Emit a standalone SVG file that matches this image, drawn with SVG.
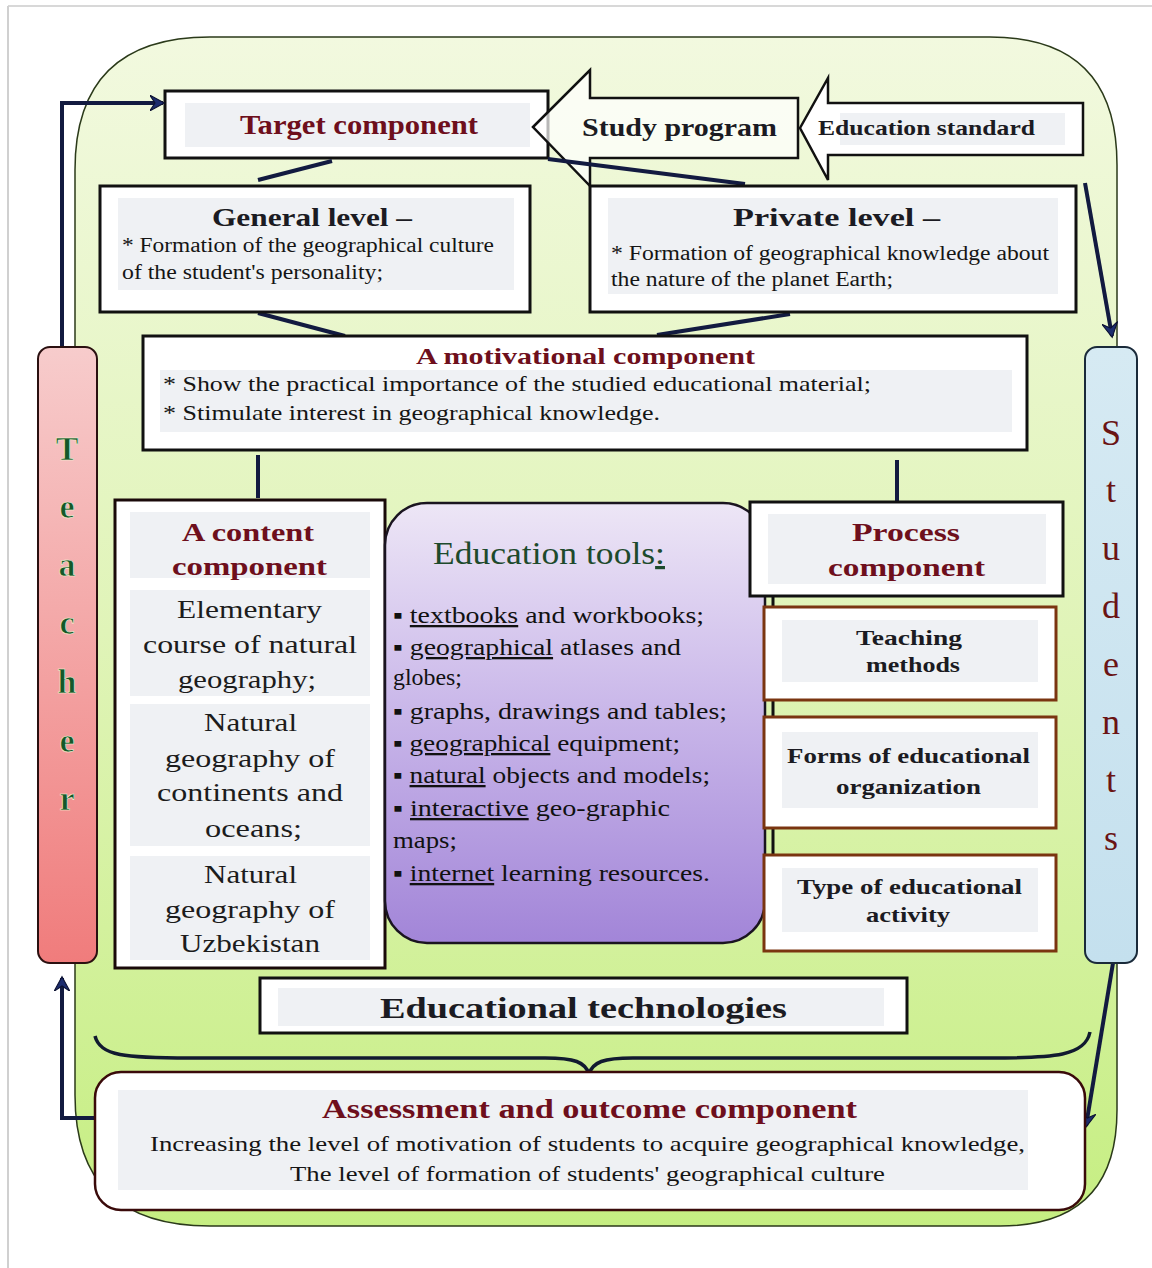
<svg xmlns="http://www.w3.org/2000/svg" width="1152" height="1268" viewBox="0 0 1152 1268">
<defs>
<linearGradient id="gGreen" x1="0" y1="0" x2="0" y2="1">
<stop offset="0" stop-color="#f2f9df"/>
<stop offset="0.5" stop-color="#e0f4b8"/>
<stop offset="1" stop-color="#c6ee82"/>
</linearGradient>
<linearGradient id="gPurple" x1="0" y1="0" x2="0" y2="1">
<stop offset="0" stop-color="#ede6f6"/>
<stop offset="0.45" stop-color="#cbb9ea"/>
<stop offset="1" stop-color="#a285d8"/>
</linearGradient>
<linearGradient id="gPink" x1="0" y1="0" x2="0" y2="1">
<stop offset="0" stop-color="#f7cccc"/>
<stop offset="1" stop-color="#f07c7c"/>
</linearGradient>
<linearGradient id="gBlue" x1="0" y1="0" x2="0" y2="1">
<stop offset="0" stop-color="#d6eaf3"/>
<stop offset="1" stop-color="#c4e0ee"/>
</linearGradient>
<marker id="arr" viewBox="0 0 12 12" refX="10" refY="6" markerWidth="4" markerHeight="4" orient="auto" markerUnits="strokeWidth">
<path d="M0,0 L11,6 L0,12 L4,6 Z" fill="#1c2c6e" stroke="#0b1030" stroke-width="0.8"/>
</marker>
<style>
.box{fill:#ffffff;stroke:#111111;stroke-width:3}
.bbox{fill:#ffffff;stroke:#7a3510;stroke-width:3}
.back{fill:#eff1f4}
.conn{stroke:#121a40;stroke-width:4;fill:none}
text{font-family:"Liberation Serif","Times New Roman",Times,"DejaVu Serif",serif}
.title{font-weight:bold;fill:#6e0f1c}
.dark{font-weight:bold;fill:#1b1b22}
.body{fill:#151515}
.cell{fill:#1c1c1c;font-size:26px}
.tool{fill:#111;font-size:23px}
.sq{text-decoration:underline}
.teach{font-weight:bold;fill:#14582a;font-size:34px;stroke:#f4f4d8;stroke-width:0.6}
.stud{fill:#6a1414;font-size:36px}
</style>
</defs>
<rect x="0" y="0" width="1152" height="1268" fill="#ffffff"/>
<line x1="8" y1="6" x2="1152" y2="6" stroke="#d8d8d8" stroke-width="2"/>
<line x1="8" y1="6" x2="8" y2="1268" stroke="#d0d0d0" stroke-width="2"/>

<g id="background">
<path d="M210,37 H990 Q1117,37 1117,165 V1110 Q1117,1226 1000,1226 H210 Q75,1226 75,1095 V170 Q75,37 210,37 Z" fill="url(#gGreen)" stroke="#2b3a1a" stroke-width="1.5"/>
</g>

<g id="target">
<rect class="box" x="165" y="91" width="383" height="67"/>
<rect class="back" x="185" y="103" width="345" height="44"/>
<text class="title" x="240" y="134" font-size="27" textLength="238" lengthAdjust="spacingAndGlyphs">Target component</text>
</g>

<g id="study-program">
<path d="M533,127 L590,70 L590,98 L798,98 L798,158 L590,158 L590,186 Z" fill="#ffffff" fill-opacity="0.7" stroke="#111" stroke-width="2.5"/>
<text class="dark" x="582" y="136" font-size="26" textLength="195" lengthAdjust="spacingAndGlyphs">Study program</text>
</g>

<g id="education-standard">
<path d="M800,128 L828,78 L828,103 L1083,103 L1083,155 L828,155 L828,180 Z" fill="#ffffff" stroke="#111" stroke-width="2.5"/>
<rect class="back" x="840" y="113" width="225" height="32"/>
<text class="dark" x="818" y="135" font-size="22" fill="#1c2440" textLength="217" lengthAdjust="spacingAndGlyphs">Education standard</text>
</g>

<g id="connectors">
<path class="conn" d="M62,347 V103 H163" marker-end="url(#arr)"/>
<path class="conn" d="M95,1118 H62 V978" marker-end="url(#arr)"/>
<path class="conn" d="M1085,183 L1112,336" marker-end="url(#arr)"/>
<path class="conn" d="M1113,963 L1086,1126" marker-end="url(#arr)"/>
<line class="conn" x1="258" y1="180" x2="332" y2="161"/>
<line class="conn" x1="548" y1="159" x2="745" y2="184"/>
<line class="conn" x1="258" y1="313" x2="345" y2="336"/>
<line class="conn" x1="790" y1="314" x2="657" y2="335"/>
<line class="conn" x1="258" y1="455" x2="258" y2="498"/>
<line class="conn" x1="897" y1="460" x2="897" y2="501"/>
<line x1="773" y1="596" x2="773" y2="856" stroke="#111" stroke-width="3"/>
<path d="M95,1036 C100,1056 125,1058 190,1058 L545,1058 C575,1058 585,1062 589,1074 C593,1062 603,1058 633,1058 L990,1058 C1055,1058 1085,1056 1090,1032" fill="none" stroke="#111a30" stroke-width="3.5"/>
</g>

<g id="general-level">
<rect class="box" x="100" y="186" width="430" height="126"/>
<rect class="back" x="118" y="198" width="396" height="92"/>
<text class="dark" x="212" y="226" font-size="25" textLength="200" lengthAdjust="spacingAndGlyphs">General level  –</text>
<text class="body" x="122" y="252" font-size="20" textLength="372" lengthAdjust="spacingAndGlyphs">* Formation of the  geographical culture</text>
<text class="body" x="122" y="279" font-size="20" textLength="261" lengthAdjust="spacingAndGlyphs">of the student's personality;</text>
</g>

<g id="private-level">
<rect class="box" x="590" y="186" width="486" height="126"/>
<rect class="back" x="608" y="198" width="450" height="96"/>
<text class="dark" x="733" y="226" font-size="25" textLength="207" lengthAdjust="spacingAndGlyphs">Private level  –</text>
<text class="body" x="611" y="260" font-size="20" textLength="438" lengthAdjust="spacingAndGlyphs">* Formation of geographical knowledge  about</text>
<text class="body" x="611" y="286" font-size="20" textLength="282" lengthAdjust="spacingAndGlyphs">the nature of the  planet Earth;</text>
</g>

<g id="motivational">
<rect class="box" x="143" y="336" width="884" height="114"/>
<rect class="back" x="160" y="370" width="852" height="62"/>
<text class="title" x="416" y="364" font-size="24" textLength="339" lengthAdjust="spacingAndGlyphs">A motivational component</text>
<text class="body" x="163" y="391" font-size="21" textLength="708" lengthAdjust="spacingAndGlyphs">* Show the practical importance of the studied educational material;</text>
<text class="body" x="163" y="420" font-size="21" textLength="497" lengthAdjust="spacingAndGlyphs">*  Stimulate interest in geographical knowledge.</text>
</g>

<g id="content">
<rect x="115" y="500" width="270" height="468" fill="#ffffff" stroke="#1a0a0a" stroke-width="3"/>
<rect class="back" x="130" y="512" width="240" height="66"/>
<rect class="back" x="130" y="590" width="240" height="106"/>
<rect class="back" x="130" y="704" width="240" height="142"/>
<rect class="back" x="130" y="856" width="240" height="104"/>
<text class="title" x="182" y="541" font-size="25" textLength="132" lengthAdjust="spacingAndGlyphs">A content</text>
<text class="title" x="172" y="575" font-size="25" textLength="155" lengthAdjust="spacingAndGlyphs">component</text>
<text class="cell" x="177" y="618" textLength="145" lengthAdjust="spacingAndGlyphs">Elementary</text>
<text class="cell" x="143" y="653" textLength="214" lengthAdjust="spacingAndGlyphs">course of natural</text>
<text class="cell" x="178" y="688" textLength="138" lengthAdjust="spacingAndGlyphs">geography;</text>
<text class="cell" x="204" y="731" textLength="93" lengthAdjust="spacingAndGlyphs">Natural</text>
<text class="cell" x="165" y="767" textLength="170" lengthAdjust="spacingAndGlyphs">geography of</text>
<text class="cell" x="157" y="801" textLength="186" lengthAdjust="spacingAndGlyphs">continents and</text>
<text class="cell" x="205" y="837" textLength="97" lengthAdjust="spacingAndGlyphs">oceans;</text>
<text class="cell" x="204" y="883" textLength="93" lengthAdjust="spacingAndGlyphs">Natural</text>
<text class="cell" x="165" y="918" textLength="170" lengthAdjust="spacingAndGlyphs">geography of</text>
<text class="cell" x="180" y="952" textLength="140" lengthAdjust="spacingAndGlyphs">Uzbekistan</text>
</g>

<g id="education-tools">
<rect x="385" y="503" width="380" height="440" rx="42" ry="42" fill="url(#gPurple)" stroke="#1a1420" stroke-width="2.5"/>
<text x="433" y="564" font-size="32" fill="#1d4a2c" textLength="232" lengthAdjust="spacingAndGlyphs">Education tools<tspan text-decoration="underline">:</tspan></text>
<text class="tool" x="393" y="623" textLength="311" lengthAdjust="spacingAndGlyphs">▪ <tspan class="sq">textbooks</tspan> and workbooks;</text>
<text class="tool" x="393" y="655" textLength="288" lengthAdjust="spacingAndGlyphs">▪ <tspan class="sq">geographical</tspan> atlases and</text>
<text class="tool" x="393" y="685" textLength="69" lengthAdjust="spacingAndGlyphs">globes;</text>
<text class="tool" x="393" y="719" textLength="334" lengthAdjust="spacingAndGlyphs">▪ graphs, drawings and tables;</text>
<text class="tool" x="393" y="751" textLength="287" lengthAdjust="spacingAndGlyphs">▪ <tspan class="sq">geographical</tspan> equipment;</text>
<text class="tool" x="393" y="783" textLength="317" lengthAdjust="spacingAndGlyphs">▪ <tspan class="sq">natural</tspan> objects and models;</text>
<text class="tool" x="393" y="816" textLength="277" lengthAdjust="spacingAndGlyphs">▪ <tspan class="sq">interactive</tspan> geo-graphic</text>
<text class="tool" x="393" y="848" textLength="64" lengthAdjust="spacingAndGlyphs">maps;</text>
<text class="tool" x="393" y="881" textLength="317" lengthAdjust="spacingAndGlyphs">▪ <tspan class="sq">internet</tspan> learning resources.</text>
</g>

<g id="process">
<rect class="box" x="750" y="502" width="313" height="94"/>
<rect class="back" x="768" y="514" width="278" height="70"/>
<text class="title" x="852" y="541" font-size="25" textLength="108" lengthAdjust="spacingAndGlyphs">Process</text>
<text class="title" x="828" y="576" font-size="25" textLength="157" lengthAdjust="spacingAndGlyphs">component</text>
</g>

<g id="teaching-methods">
<rect class="bbox" x="764" y="607" width="292" height="93"/>
<rect class="back" x="782" y="620" width="256" height="62"/>
<text class="dark" x="856" y="645" font-size="21" textLength="106" lengthAdjust="spacingAndGlyphs">Teaching</text>
<text class="dark" x="866" y="672" font-size="21" textLength="94" lengthAdjust="spacingAndGlyphs">methods</text>
</g>

<g id="forms">
<rect class="bbox" x="764" y="717" width="292" height="111"/>
<rect class="back" x="782" y="732" width="256" height="76"/>
<text class="dark" x="787" y="763" font-size="21" textLength="243" lengthAdjust="spacingAndGlyphs">Forms of educational</text>
<text class="dark" x="836" y="794" font-size="21" textLength="145" lengthAdjust="spacingAndGlyphs">organization</text>
</g>

<g id="type-activity">
<rect class="bbox" x="764" y="855" width="292" height="96"/>
<rect class="back" x="782" y="868" width="256" height="64"/>
<text class="dark" x="797" y="894" font-size="21" textLength="225" lengthAdjust="spacingAndGlyphs">Type of educational</text>
<text class="dark" x="866" y="922" font-size="21" textLength="84" lengthAdjust="spacingAndGlyphs">activity</text>
</g>

<g id="teacher">
<rect x="38" y="347" width="59" height="616" rx="12" ry="12" fill="url(#gPink)" stroke="#2a1010" stroke-width="2"/>
<text class="teach" x="67" y="460" text-anchor="middle">T</text>
<text class="teach" x="67" y="518" text-anchor="middle">e</text>
<text class="teach" x="67" y="576" text-anchor="middle">a</text>
<text class="teach" x="67" y="634" text-anchor="middle">c</text>
<text class="teach" x="67" y="693" text-anchor="middle">h</text>
<text class="teach" x="67" y="752" text-anchor="middle">e</text>
<text class="teach" x="67" y="810" text-anchor="middle">r</text>
</g>

<g id="students">
<rect x="1085" y="347" width="52" height="616" rx="12" ry="12" fill="url(#gBlue)" stroke="#1a2a3a" stroke-width="2"/>
<text class="stud" x="1111" y="445" text-anchor="middle">S</text>
<text class="stud" x="1111" y="502" text-anchor="middle">t</text>
<text class="stud" x="1111" y="560" text-anchor="middle">u</text>
<text class="stud" x="1111" y="618" text-anchor="middle">d</text>
<text class="stud" x="1111" y="676" text-anchor="middle">e</text>
<text class="stud" x="1111" y="734" text-anchor="middle">n</text>
<text class="stud" x="1111" y="792" text-anchor="middle">t</text>
<text class="stud" x="1111" y="850" text-anchor="middle">s</text>
</g>

<g id="technologies">
<rect class="box" x="260" y="978" width="647" height="55"/>
<rect class="back" x="278" y="988" width="606" height="38"/>
<text class="dark" x="380" y="1018" font-size="29" textLength="407" lengthAdjust="spacingAndGlyphs">Educational technologies</text>
</g>

<g id="assessment">
<rect x="95" y="1072" width="990" height="138" rx="26" ry="26" fill="#ffffff" stroke="#3a0a0a" stroke-width="2.5"/>
<rect class="back" x="118" y="1090" width="910" height="100"/>
<text class="title" x="322" y="1118" font-size="27" textLength="535" lengthAdjust="spacingAndGlyphs">Assessment and outcome component</text>
<text class="body" x="150" y="1151" font-size="22" textLength="875" lengthAdjust="spacingAndGlyphs">Increasing the level of motivation of students to acquire geographical knowledge,</text>
<text class="body" x="290" y="1181" font-size="22" textLength="595" lengthAdjust="spacingAndGlyphs">The level of formation of students' geographical culture</text>
</g>
</svg>
